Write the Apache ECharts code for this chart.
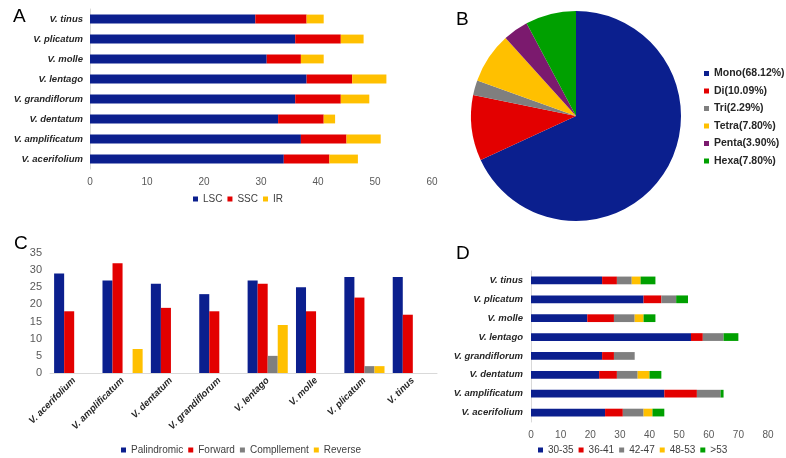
<!DOCTYPE html>
<html>
<head>
<meta charset="utf-8">
<script src="https://cdn.jsdelivr.net/npm/echarts@6/dist/echarts.min.js"></script>
<style>
html,body{margin:0;padding:0;background:#fff;}
#main{width:786px;height:458px;}
</style>
</head>
<body>
<div id="main"></div>
<script>
// species, bottom to top for the horizontal panels
var species = ['V. acerifolium', 'V. amplificatum', 'V. dentatum', 'V. grandiflorum', 'V. lentago', 'V. molle', 'V. plicatum', 'V. tinus'];

// A: region lengths
var lsc = [34, 37, 33, 36, 38, 31, 36, 29];
var ssc = [8, 8, 8, 8, 8, 6, 8, 9];
var ir = [5, 6, 2, 5, 6, 4, 4, 3];

// B: SSR types
var ssrNames = ['Mono', 'Di', 'Tri', 'Tetra', 'Penta', 'Hexa'];
var ssrPct = [68.12, 10.09, 2.29, 7.80, 3.90, 7.80];

// C: repeat types
var palindromic = [29, 27, 26, 23, 27, 25, 28, 28];
var forward = [18, 32, 19, 18, 26, 18, 22, 17];
var complement = [0, 0, 0, 0, 5, 0, 2, 0];
var reverse = [0, 7, 0, 0, 14, 0, 2, 0];

// D: repeat length classes
var lenNames = ['30-35', '36-41', '42-47', '48-53', '>53'];
var len1 = [25, 45, 23, 24, 54, 19, 38, 24];
var len2 = [6, 11, 6, 4, 4, 9, 6, 5];
var len3 = [7, 8, 7, 7, 7, 7, 5, 5];
var len4 = [3, 0, 4, 0, 0, 3, 0, 3];
var len5 = [4, 1, 4, 0, 5, 4, 4, 5];

var NAVY = '#0b1f8e', RED = '#e30000', GRAY = '#7f7f7f', YEL = '#ffc000', PUR = '#7b1a6e', GRN = '#00a000';
var font = 'Liberation Sans, Arial, sans-serif';

var catLabel = { fontFamily: font, fontSize: 9.5, fontWeight: 'bold', fontStyle: 'italic', color: '#262626' };
var tickLabel = { fontFamily: font, fontSize: 10, color: '#595959' };
var lightLine = { show: true, lineStyle: { color: '#d9d9d9' } };

var myChart = echarts.init(document.getElementById('main'));

var pieData = [];
var pieColors = [NAVY, RED, GRAY, YEL, PUR, GRN];
for (var i = 0; i < ssrNames.length; i++) {
	pieData.push({ name: ssrNames[i], value: ssrPct[i], itemStyle: { color: pieColors[i] } });
}

function legendBase(data, left, top) {
	return {
		data: data, left: left, top: top, itemWidth: 5, itemHeight: 5, itemGap: 5,
		icon: 'rect', padding: 0,
		textStyle: { fontFamily: font, fontSize: 10, color: '#404040' }
	};
}

var option = {
	animation: false,
	title: [
		{ text: 'A', left: 8, top: 2 },
		{ text: 'B', left: 451, top: 5 },
		{ text: 'C', left: 9, top: 229 },
		{ text: 'D', left: 451, top: 239 }
	].map(function (t) {
		t.textStyle = { fontFamily: font, fontSize: 19, fontWeight: 'normal', color: '#000' };
		return t;
	}),
	legend: [
		legendBase(['LSC', 'SSC', 'IR'], 193, 194),
		{
			data: ssrNames, left: 704, top: 68, orient: 'vertical', itemWidth: 5, itemHeight: 5, itemGap: 6.5,
			icon: 'rect', padding: 0,
			formatter: function (name) {
				return name + '(' + ssrPct[ssrNames.indexOf(name)].toFixed(2) + '%)';
			},
			textStyle: { fontFamily: font, fontSize: 10.5, fontWeight: 'bold', color: '#262626' }
		},
		legendBase(['Palindromic', 'Forward', 'Compllement', 'Reverse'], 121, 445),
		legendBase(lenNames, 538, 445)
	],
	grid: [
		{ left: 90, top: 9, width: 342, height: 160 },
		{ left: 50, top: 253, width: 387, height: 120 },
		{ left: 531, top: 271, width: 237, height: 151 }
	],
	xAxis: [
		{ gridIndex: 0, type: 'value', min: 0, max: 60, interval: 10, splitLine: { show: false },
			axisLine: { show: false }, axisTick: { show: false }, axisLabel: tickLabel },
		{ gridIndex: 1, type: 'category', data: species, axisLine: lightLine, axisTick: { show: false },
			axisLabel: Object.assign({}, catLabel, { rotate: 45, interval: 0, margin: 6 }) },
		{ gridIndex: 2, type: 'value', min: 0, max: 80, interval: 10, splitLine: { show: false },
			axisLine: { show: false }, axisTick: { show: false }, axisLabel: tickLabel }
	],
	yAxis: [
		{ gridIndex: 0, type: 'category', data: species, axisLine: lightLine, axisTick: { show: false },
			axisLabel: Object.assign({}, catLabel, { margin: 7 }) },
		{ gridIndex: 1, type: 'value', min: 0, max: 35, interval: 5, splitLine: { show: false },
			axisLine: { show: false }, axisTick: { show: false }, axisLabel: Object.assign({}, tickLabel, { fontSize: 11 }) },
		{ gridIndex: 2, type: 'category', data: species, axisLine: lightLine, axisTick: { show: false },
			axisLabel: Object.assign({}, catLabel, { margin: 8 }) }
	],
	series: [
		{ name: 'LSC', type: 'bar', stack: 'a', xAxisIndex: 0, yAxisIndex: 0, data: lsc, barCategoryGap: '56%', itemStyle: { color: NAVY } },
		{ name: 'SSC', type: 'bar', stack: 'a', xAxisIndex: 0, yAxisIndex: 0, data: ssc, itemStyle: { color: RED } },
		{ name: 'IR', type: 'bar', stack: 'a', xAxisIndex: 0, yAxisIndex: 0, data: ir, itemStyle: { color: YEL } },
		{
			type: 'pie', center: [576, 116], radius: 105, startAngle: 90, clockwise: true,
			label: { show: false }, labelLine: { show: false }, data: pieData, silent: true
		},
		{ name: 'Palindromic', type: 'bar', xAxisIndex: 1, yAxisIndex: 1, data: palindromic, barGap: 0, barCategoryGap: '17%', itemStyle: { color: NAVY } },
		{ name: 'Forward', type: 'bar', xAxisIndex: 1, yAxisIndex: 1, data: forward, itemStyle: { color: RED } },
		{ name: 'Compllement', type: 'bar', xAxisIndex: 1, yAxisIndex: 1, data: complement, itemStyle: { color: GRAY } },
		{ name: 'Reverse', type: 'bar', xAxisIndex: 1, yAxisIndex: 1, data: reverse, itemStyle: { color: YEL } },
		{ name: '30-35', type: 'bar', stack: 'd', xAxisIndex: 2, yAxisIndex: 2, data: len1, barCategoryGap: '59%', itemStyle: { color: NAVY } },
		{ name: '36-41', type: 'bar', stack: 'd', xAxisIndex: 2, yAxisIndex: 2, data: len2, itemStyle: { color: RED } },
		{ name: '42-47', type: 'bar', stack: 'd', xAxisIndex: 2, yAxisIndex: 2, data: len3, itemStyle: { color: GRAY } },
		{ name: '48-53', type: 'bar', stack: 'd', xAxisIndex: 2, yAxisIndex: 2, data: len4, itemStyle: { color: YEL } },
		{ name: '>53', type: 'bar', stack: 'd', xAxisIndex: 2, yAxisIndex: 2, data: len5, itemStyle: { color: GRN } }
	]
};
myChart.setOption(option);
</script>
</body>
</html>
